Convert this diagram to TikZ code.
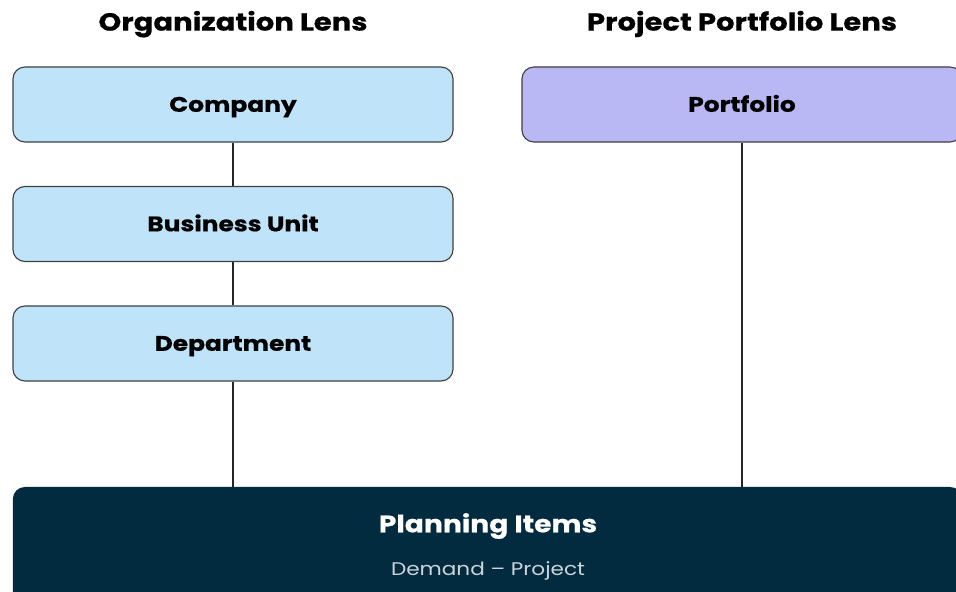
\documentclass[tikz,border=0pt]{standalone}
\usepackage{fontspec}
\setmainfont{Poppins}[FakeStretch=1.18, BoldFeatures={FakeBold=0.6}]
\usetikzlibrary{positioning,calc}
\definecolor{orgblue}{RGB}{191,228,250}
\definecolor{portpurple}{RGB}{185,184,245}
\definecolor{plannavy}{RGB}{2,43,64}
\definecolor{subgray}{RGB}{205,212,218}

\tikzset{
  captext/.style={text height=#1, text depth=0pt},
  lens/.style={captext=12.2pt, font=\bfseries\fontsize{17.5}{20}\selectfont},
  levelbox/.style={captext=10.4pt, draw=black!75, line width=0.8pt, rounded corners=0.3cm,
    fill=orgblue, minimum width=11cm, minimum height=1.875cm, inner sep=0pt,
    font=\bfseries\fontsize{15}{18}\selectfont},
  link/.style={draw=black!85, line width=0.8pt}
}

\begin{document}
\begin{tikzpicture}[x=0.025cm,y=-0.025cm]
  \useasboundingbox[fill=white] (0,0) rectangle (956,592);
  % lens titles
  \node[lens] (orglens) at (233,22) {Organization Lens};
  \node[lens] (portlens) at (742,22) {Project Portfolio Lens};
  % organization levels
  \node[levelbox] (company) at (233,104.5) {Company};
  \node[levelbox] (unit) at (233,224) {Business Unit};
  \node[levelbox] (dept) at (233,343.5) {Department};
  % portfolio
  \node[levelbox, fill=portpurple] (portfolio) at (742,104.5) {Portfolio};
  % planning items
  \node[fill=plannavy, rounded corners=0.3cm, minimum width=23.725cm,
    minimum height=3cm, inner sep=0pt] (plan) at (487.5,547) {};
  \node[captext=11.8pt, font=\bfseries\fontsize{17}{20}\selectfont, text=white] (plantitle) at (488,524) {Planning Items};
  \node[captext=9.1pt, font=\fontsize{13}{16}\selectfont, text=subgray] (plansub) at (488,569) {Demand – Project};
  % connectors
  \draw[link] (company) -- (unit);
  \draw[link] (unit) -- (dept);
  \draw[link] (dept.south) -- (dept.south |- plan.north);
  \draw[link] (portfolio.south) -- (portfolio.south |- plan.north);
\end{tikzpicture}
\end{document}
